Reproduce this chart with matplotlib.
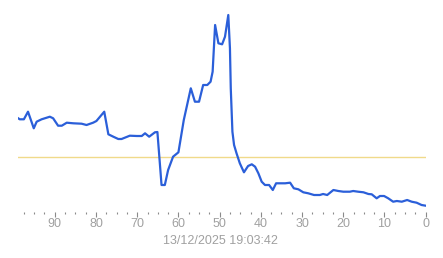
import matplotlib
matplotlib.use("Agg")
import matplotlib.pyplot as plt
from matplotlib.ticker import MultipleLocator

# series (x = samples ago, y = relative level)
x_ago = [99.1, 98.5, 97.5, 96.5, 95.1, 94.4, 93.2, 91.2, 90.4, 89.2, 88.3, 87.1,
         85.5, 83.5, 82.3, 80.7, 79.9, 78.0, 77.0, 75.8, 74.6, 73.8, 71.8, 70.1,
         68.9, 68.1, 67.1, 65.7, 65.1, 64.1, 63.3, 62.5, 61.3, 60.0, 58.7, 57.0,
         56.0, 55.0, 54.0, 53.0, 52.2, 51.7, 51.1, 50.3, 49.4, 48.7, 47.9, 47.5,
         47.3, 46.9, 46.5, 45.9, 45.1, 44.1, 43.1, 42.2, 41.4, 40.6, 39.8, 39.0,
         38.0, 37.1, 36.3, 35.4, 34.1, 32.9, 32.0, 30.9, 29.7, 28.5, 27.1, 25.7,
         24.9, 23.9, 22.4, 21.2, 20.0, 18.4, 17.6, 16.4, 15.1, 13.9, 13.1, 11.9,
         11.1, 10.1, 9.1, 7.9, 7.0, 5.8, 4.5, 3.4, 2.2, 1.0, 0.0]
values = [92.3, 90.7, 90.7, 98.3, 81.7, 88.3, 90.7, 93.3, 91.7, 84.3, 84.3, 87.3,
          86.7, 86.3, 85.0, 87.3, 89.0, 98.3, 75.7, 73.3, 71.0, 71.0, 74.3, 74.0,
          74.0, 76.7, 73.3, 77.7, 78.0, 25.0, 25.0, 40.0, 53.3, 57.7, 90.0, 121.7,
          108.3, 108.3, 125.0, 125.0, 128.3, 138.3, 185.0, 166.7, 165.7, 173.3, 195.0, 161.7,
          121.7, 78.3, 65.0, 56.7, 46.7, 37.7, 44.0, 45.7, 43.3, 36.7, 28.3, 25.0,
          25.0, 20.0, 26.7, 26.7, 26.7, 27.3, 21.7, 20.7, 17.7, 16.7, 15.0, 15.0,
          16.0, 15.0, 20.0, 19.0, 18.3, 18.3, 19.0, 18.3, 17.7, 16.0, 15.7, 11.7,
          14.0, 14.0, 11.7, 8.3, 9.0, 8.3, 10.0, 8.3, 7.3, 5.0, 4.3]
threshold = 52.7
timestamp = "13/12/2025 19:03:42"

W, H = 443, 258
fig = plt.figure(figsize=(W / 100, H / 100), dpi=100)
ax = fig.add_axes([17.7 / W, 1 - 212 / H, 408 / W, 202 / H])

ax.axhline(threshold, color="#f0da8a", linewidth=1.0, zorder=1)
ax.plot(x_ago, values, color="#2b5fd9", linewidth=1.6, solid_joinstyle="round", zorder=2)

ax.set_xlim(99, 0)
ax.set_ylim(-2, 200)
for s in ax.spines.values():
    s.set_visible(False)
ax.set_yticks([])
ax.xaxis.set_major_locator(MultipleLocator(10))
ax.xaxis.set_minor_locator(MultipleLocator(2.5))
ax.tick_params(axis="x", which="major", length=3.4, width=0.8, color="#8a8a8a",
               pad=1.2, labelsize=9, labelcolor="#a0a0a0")
ax.tick_params(axis="x", which="minor", length=1.4, width=0.8, color="#8a8a8a")
for lab in ax.get_xticklabels():
    lab.set_family("Liberation Sans")

fig.text(220 / W, 1 - 241 / H, timestamp, ha="center", va="center",
         fontsize=9, color="#a0a0a0", family="Liberation Sans")

fig.savefig("out.png", dpi=100)
